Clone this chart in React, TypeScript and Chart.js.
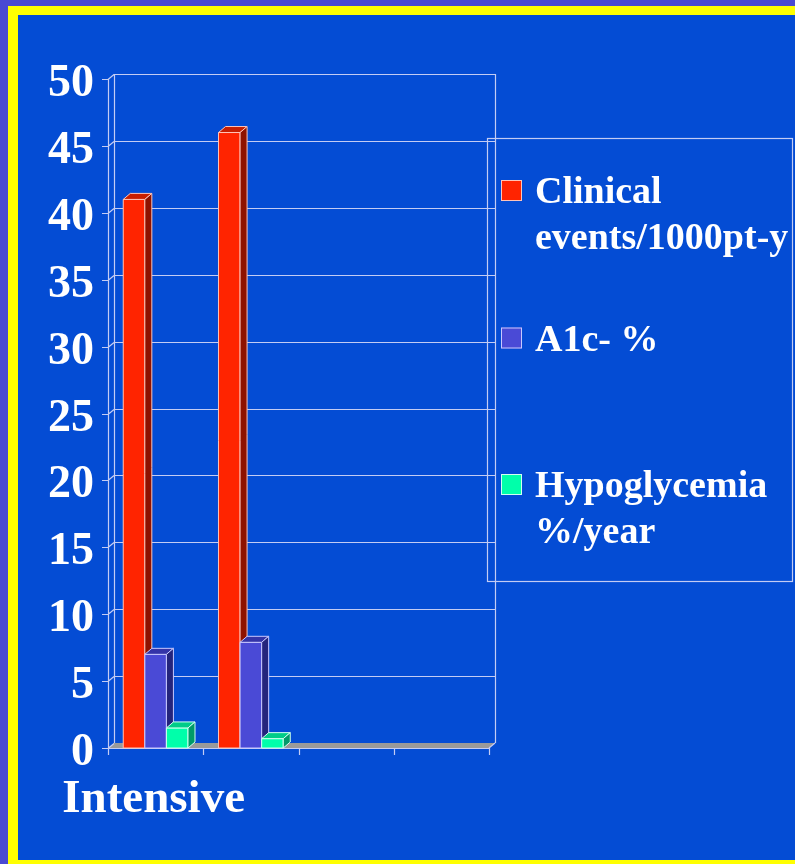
import React, { useEffect, useRef } from "react";
import { Chart, registerables } from "chart.js";

Chart.register(...registerables);

const W = 795;
const H = 864;

// ---- data ----
const categories = ["Intensive", "", "", ""];
const clinicalEvents = [41, 46, null, null];
const a1cPercent = [7, 7.9, null, null];
const hypoglycemia = [1.5, 0.7, null, null];
const yTickValues = [0, 5, 10, 15, 20, 25, 30, 35, 40, 45, 50];
const legendLines = [["Clinical", "events/1000pt-y"], ["A1c- %"], ["Hypoglycemia", "%/year"]];

// ---- styling ----
const SERIF = "'Liberation Serif', 'Times New Roman', serif";
const BG_OUTER = "#4a4ad2";
const BG_FRAME = "#ffff00";
const BG_INNER = "#044cd4";
const GRID = "#c4ccf4";
const FLOOR = "#9a9a9a";

const faces = [
  { front: "#ff2400", top: "#c81e00", side: "#8e1200", edge: "#ffc4b8" },
  { front: "#4a4ad6", top: "#3434a8", side: "#24247c", edge: "#c8c8ff" },
  { front: "#00ffaa", top: "#00cc88", side: "#009a68", edge: "#d0fff0" },
];

// depth offsets for the box walls and for the bars
const WALL_DX = 6;
const WALL_DY = -5;
const BAR_DX = 7;
const BAR_DY = -6;

const framePlugin = {
  id: "frame",
  beforeDraw(chart: any) {
    const ctx = chart.ctx;
    ctx.save();
    ctx.fillStyle = BG_OUTER;
    ctx.fillRect(0, 0, W, H);
    ctx.fillStyle = BG_FRAME;
    ctx.fillRect(8, 6, W - 8, H - 6);
    ctx.fillStyle = BG_INNER;
    ctx.fillRect(18, 15, W - 18, 860 - 15);
    ctx.restore();
  },
};

const boxPlugin = {
  id: "box3d",
  beforeDatasetsDraw(chart: any) {
    const { ctx, chartArea, scales } = chart;
    const { left, right, top, bottom } = chartArea;
    const y = scales.y;
    ctx.save();
    // floor
    ctx.fillStyle = FLOOR;
    ctx.beginPath();
    ctx.moveTo(left, bottom);
    ctx.lineTo(right, bottom);
    ctx.lineTo(right + WALL_DX, bottom + WALL_DY);
    ctx.lineTo(left + WALL_DX, bottom + WALL_DY);
    ctx.closePath();
    ctx.fill();

    ctx.strokeStyle = GRID;
    ctx.lineWidth = 1.2;
    ctx.beginPath();
    for (const v of yTickValues) {
      const yf = Math.round(y.getPixelForValue(v)) + 0.5;
      if (v > 0) {
        ctx.moveTo(left + WALL_DX, yf + WALL_DY);
        ctx.lineTo(right + WALL_DX, yf + WALL_DY);
      }
      ctx.moveTo(left, yf);
      ctx.lineTo(left + WALL_DX, yf + WALL_DY);
      ctx.moveTo(left - 6, yf);
      ctx.lineTo(left, yf);
    }
    // back wall verticals
    ctx.moveTo(left + WALL_DX + 0.5, top + WALL_DY);
    ctx.lineTo(left + WALL_DX + 0.5, bottom + WALL_DY);
    ctx.moveTo(right + WALL_DX + 0.5, top + WALL_DY);
    ctx.lineTo(right + WALL_DX + 0.5, bottom + WALL_DY);
    // front axis
    ctx.moveTo(left + 0.5, top);
    ctx.lineTo(left + 0.5, bottom + 7);
    // floor right edge
    ctx.moveTo(right, bottom);
    ctx.lineTo(right + WALL_DX, bottom + WALL_DY);
    // front floor edge
    ctx.moveTo(left, bottom + 0.5);
    ctx.lineTo(right, bottom + 0.5);
    // category ticks
    const step = (right - left) / categories.length;
    for (let i = 0; i <= categories.length; i++) {
      const x = Math.round(left + i * step) + 0.5;
      ctx.moveTo(x, bottom);
      ctx.lineTo(x, bottom + 7);
    }
    ctx.stroke();
    ctx.restore();
  },
  afterDatasetsDraw(chart: any) {
    const ctx = chart.ctx;
    ctx.save();
    ctx.lineWidth = 1;
    chart.data.datasets.forEach((ds: any, di: number) => {
      const meta = chart.getDatasetMeta(di);
      const f = faces[di];
      meta.data.forEach((el: any, i: number) => {
        if (ds.data[i] == null) return;
        const { x, y, base, width } = el.getProps(["x", "y", "base", "width"], true);
        const l = x - width / 2;
        const r = x + width / 2;
        ctx.strokeStyle = f.edge;
        // front
        ctx.fillStyle = f.front;
        ctx.beginPath();
        ctx.rect(l, y, r - l, base - y);
        ctx.fill();
        ctx.stroke();
        // top
        ctx.fillStyle = f.top;
        ctx.beginPath();
        ctx.moveTo(l, y);
        ctx.lineTo(l + BAR_DX, y + BAR_DY);
        ctx.lineTo(r + BAR_DX, y + BAR_DY);
        ctx.lineTo(r, y);
        ctx.closePath();
        ctx.fill();
        ctx.stroke();
        // side
        ctx.fillStyle = f.side;
        ctx.beginPath();
        ctx.moveTo(r, y);
        ctx.lineTo(r + BAR_DX, y + BAR_DY);
        ctx.lineTo(r + BAR_DX, base + BAR_DY);
        ctx.lineTo(r, base);
        ctx.closePath();
        ctx.fill();
        ctx.stroke();
      });
    });
    ctx.restore();
  },
};

const labelsPlugin = {
  id: "labels",
  afterDraw(chart: any) {
    const { ctx, chartArea, scales } = chart;
    ctx.save();
    ctx.fillStyle = "#ffffff";
    // y tick labels
    ctx.font = `bold 46px ${SERIF}`;
    ctx.textAlign = "right";
    ctx.textBaseline = "alphabetic";
    for (const v of yTickValues) {
      ctx.fillText(String(v), chartArea.left - 14, scales.y.getPixelForValue(v) + 17);
    }
    // category labels
    ctx.font = `bold 47px ${SERIF}`;
    ctx.textAlign = "center";
    categories.forEach((c, i) => {
      if (!c) return;
      ctx.fillText(c, scales.x.getPixelForValue(i) - 2, 812);
    });

    // legend
    const bx = 487.5, by = 138.5, bw = 305, bh = 443;
    ctx.strokeStyle = GRID;
    ctx.lineWidth = 1.2;
    ctx.strokeRect(bx, by, bw, bh);
    const markerTops = [180, 327.5, 474];
    ctx.font = `bold 38px ${SERIF}`;
    ctx.textAlign = "left";
    legendLines.forEach((lines, i) => {
      const t = markerTops[i];
      ctx.fillStyle = faces[i].front;
      ctx.fillRect(501, t, 21, 21);
      ctx.strokeStyle = faces[i].edge;
      ctx.lineWidth = 1;
      ctx.strokeRect(501.5, t + 0.5, 20, 20);
      ctx.fillStyle = "#ffffff";
      lines.forEach((s, j) => {
        ctx.fillText(s, 535, t + 23 + j * 46);
      });
    });
    ctx.restore();
  },
};

export default function App() {
  const ref = useRef<HTMLCanvasElement>(null);
  useEffect(() => {
    if (!ref.current) return;
    const chart = new Chart(ref.current, {
      type: "bar",
      data: {
        labels: categories,
        datasets: [
          { label: "Clinical events/1000pt-y", data: clinicalEvents, backgroundColor: faces[0].front },
          { label: "A1c- %", data: a1cPercent, backgroundColor: faces[1].front },
          { label: "Hypoglycemia %/year", data: hypoglycemia, backgroundColor: faces[2].front },
        ],
      },
      options: {
        responsive: false,
        maintainAspectRatio: false,
        animation: false,
        devicePixelRatio: 1,
        layout: { padding: { left: 108, right: 306, top: 79, bottom: 116 } },
        datasets: { bar: { categoryPercentage: 0.68, barPercentage: 1 } },
        scales: {
          x: { display: false },
          y: { display: false, min: 0, max: 50 },
        },
        plugins: { legend: { display: false }, tooltip: { enabled: false } },
      },
      plugins: [framePlugin, boxPlugin, labelsPlugin],
    } as any);
    return () => chart.destroy();
  }, []);
  return (
    <div style={{ position: "absolute", left: 0, top: 0, width: W, height: H }}>
      <canvas ref={ref} width={W} height={H} style={{ display: "block" }} />
    </div>
  );
}
